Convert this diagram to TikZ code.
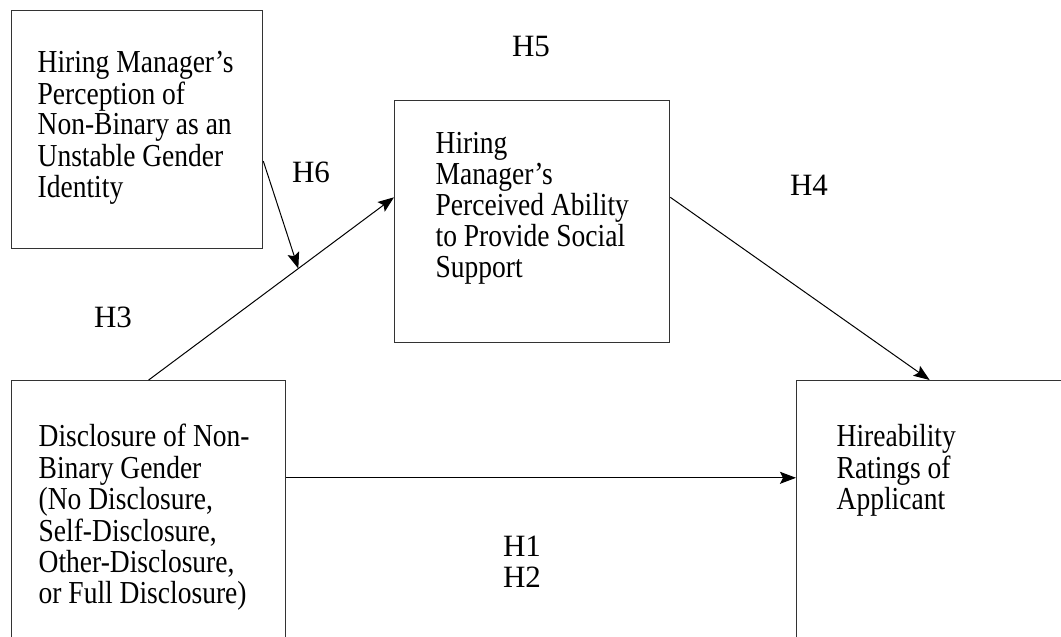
\documentclass[tikz,border=0pt]{standalone}
\usepackage{fontspec}
\setmainfont{Liberation Serif}[FakeStretch=0.86]
\newfontfamily\hypfont{Liberation Serif}
\usetikzlibrary{arrows.meta}

\newcommand{\boxtext}[5]{\parbox[t][#2][t]{#1}{\vspace*{#4}\hspace*{#3}\begin{tabular}[t]{@{}l@{}}#5\end{tabular}}}

\begin{document}
\begin{tikzpicture}[x=1pt,y=-1pt,
  box/.style={draw=black!80,line width=1.3pt,inner sep=0pt,anchor=north west,font=\fontsize{32}{30.5}\selectfont},
  hyp/.style={anchor=base,font=\hypfont\fontsize{31}{31}\selectfont},
  link/.style={-{Stealth[length=16pt,width=12pt,inset=3pt]},line width=1pt}]
\clip (0,0) rectangle (1061,637);
\node[box] (percep) at (11,10) {\boxtext{251pt}{238pt}{26pt}{40.6pt}{Hiring Manager's\\Perception of\\Non-Binary as an\\Unstable Gender\\Identity}};
\node[box] (support) at (394,100) {\boxtext{275pt}{242pt}{41pt}{31.6pt}{Hiring\\Manager's\\Perceived Ability\\to Provide Social\\Support}};
\node[box] (disclose) at (11,380) {\boxtext{274pt}{300pt}{27pt}{43.6pt}{Disclosure of Non-\\Binary Gender\\(No Disclosure,\\Self-Disclosure,\\Other-Disclosure,\\or Full Disclosure)}};
\node[box] (hire) at (796,380) {\boxtext{266pt}{300pt}{40pt}{43.6pt}{Hireability\\Ratings of\\Applicant}};
\draw[link] (disclose.north) -- coordinate[pos=0.61] (moderate) (support.170);
\draw[link] (percep.-14) -- (moderate);
\draw[link] (support.10) -- (hire.north);
\draw[link] (disclose.21) -- (disclose.21 -| hire.west);
\node[hyp] (h5) at (531,56) {H5};
\node[hyp] (h6) at (311,182) {H6};
\node[hyp] (h4) at (809,195) {H4};
\node[hyp] (h3) at (113,327) {H3};
\node[hyp] (h1) at (522,556) {H1};
\node[hyp] (h2) at (522,587) {H2};
\end{tikzpicture}
\end{document}
